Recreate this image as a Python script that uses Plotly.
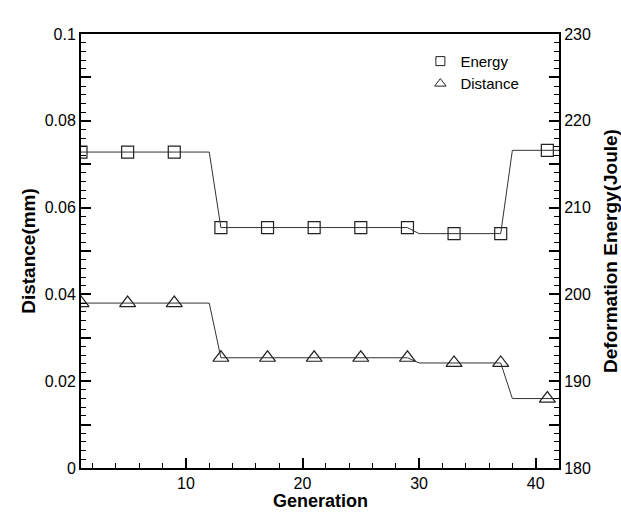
import plotly.graph_objects as go

# ---- data ----
generation = [1, 2, 3, 4, 5, 6, 7, 8, 9, 10, 11, 12, 13, 14, 15, 16, 17, 18, 19, 20, 21,
              22, 23, 24, 25, 26, 27, 28, 29, 30, 31, 32, 33, 34, 35, 36, 37, 38, 39, 40, 41, 42]

energy_joule = [216.4, 216.4, 216.4, 216.4, 216.4, 216.4, 216.4, 216.4, 216.4, 216.4, 216.4, 216.4,
                207.7, 207.7, 207.7, 207.7, 207.7, 207.7, 207.7, 207.7, 207.7, 207.7, 207.7, 207.7,
                207.7, 207.7, 207.7, 207.7, 207.7,
                207.0, 207.0, 207.0, 207.0, 207.0, 207.0, 207.0, 207.0,
                216.6, 216.6, 216.6, 216.6, 216.6]

distance_mm = [0.0380, 0.0380, 0.0380, 0.0380, 0.0380, 0.0380, 0.0380, 0.0380, 0.0380, 0.0380, 0.0380, 0.0380,
               0.0254, 0.0254, 0.0254, 0.0254, 0.0254, 0.0254, 0.0254, 0.0254, 0.0254, 0.0254, 0.0254, 0.0254,
               0.0254, 0.0254, 0.0254, 0.0254, 0.0254,
               0.0242, 0.0242, 0.0242, 0.0242, 0.0242, 0.0242, 0.0242, 0.0242,
               0.0160, 0.0160, 0.0160, 0.0160, 0.0160]

marker_generations = [1, 5, 9, 13, 17, 21, 25, 29, 33, 37, 41]

x_tickvals = [10, 20, 30, 40]
y_tickvals = [0, 0.01, 0.02, 0.03, 0.04, 0.05, 0.06, 0.07, 0.08, 0.09, 0.1]
y_ticktext = ["0", "", "0.02", "", "0.04", "", "0.06", "", "0.08", "", "0.1"]
y2_tickvals = [180, 185, 190, 195, 200, 205, 210, 215, 220, 225, 230]
y2_ticktext = ["180", "", "190", "", "200", "", "210", "", "220", "", "230"]

# ---- derived marker subsets ----
idx = [generation.index(g) for g in marker_generations]
energy_marks = [energy_joule[i] for i in idx]
distance_marks = [distance_mm[i] for i in idx]

FONT = "Liberation Sans, Arial, sans-serif"
LINE_COLOR = "#333333"

fig = go.Figure()

# lines
fig.add_trace(go.Scatter(x=generation, y=energy_joule, yaxis="y2", mode="lines",
                         line=dict(color=LINE_COLOR, width=1), showlegend=False, hoverinfo="skip"))
fig.add_trace(go.Scatter(x=generation, y=distance_mm, yaxis="y", mode="lines",
                         line=dict(color=LINE_COLOR, width=1), showlegend=False, hoverinfo="skip"))

# markers
fig.add_trace(go.Scatter(x=marker_generations, y=energy_marks, yaxis="y2", mode="markers",
                         marker=dict(symbol="square-open", size=12, color="#222222",
                                     line=dict(width=1.2, color="#222222")),
                         showlegend=False, name="Energy"))
fig.add_trace(go.Scatter(x=marker_generations, y=distance_marks, yaxis="y", mode="markers",
                         marker=dict(symbol="triangle-up-open", size=14, color="#222222",
                                     line=dict(width=1.2, color="#222222")),
                         showlegend=False, name="Distance"))

# legend entries
fig.add_trace(go.Scatter(x=[None], y=[None], mode="markers", name="Energy",
                         marker=dict(symbol="square-open", size=9, color="#222222",
                                     line=dict(width=1, color="#222222"))))
fig.add_trace(go.Scatter(x=[None], y=[None], mode="markers", name="Distance",
                         marker=dict(symbol="triangle-up-open", size=10, color="#222222",
                                     line=dict(width=1, color="#222222"))))

tickfont = dict(family=FONT, size=16, color="black")
titlefont = dict(family=FONT, size=19, color="black", weight="bold")
xtitlefont = dict(family=FONT, size=18, color="black", weight="bold")

fig.update_layout(
    width=621, height=512,
    margin=dict(l=81, r=62, t=34, b=44),
    paper_bgcolor="white", plot_bgcolor="white",
    font=dict(family=FONT, color="black"),
    showlegend=True,
    legend=dict(x=0.71, y=0.975, xanchor="left", yanchor="top",
                bgcolor="rgba(0,0,0,0)", borderwidth=0,
                font=dict(family=FONT, size=15, color="black"),
                tracegroupgap=0, itemwidth=30),
    xaxis=dict(
        range=[1, 42], tickmode="array", tickvals=x_tickvals,
        ticks="inside", ticklen=10, tickwidth=2, tickcolor="black",
        showline=True, linewidth=2, linecolor="black", mirror=True,
        showgrid=False, zeroline=False, tickfont=tickfont,
        minor=dict(tickmode="linear", tick0=0, dtick=2, ticks="inside", ticklen=5,
                   tickwidth=1, tickcolor="black", showgrid=False),
        automargin=False,
    ),
    yaxis=dict(
        range=[0, 0.1], tickmode="array", tickvals=y_tickvals, ticktext=y_ticktext,
        ticks="inside", ticklen=10, tickwidth=2, tickcolor="black",
        showline=True, linewidth=2, linecolor="black", mirror=True,
        showgrid=False, zeroline=False, tickfont=tickfont,
        minor=dict(tickmode="linear", tick0=0, dtick=0.002, ticks="inside", ticklen=5,
                   tickwidth=1, tickcolor="black", showgrid=False),
        title=dict(text="Distance(mm)", font=titlefont, standoff=4),
        automargin=False,
    ),
    yaxis2=dict(
        overlaying="y", side="right",
        range=[180, 230], tickmode="array", tickvals=y2_tickvals, ticktext=y2_ticktext,
        ticks="inside", ticklen=10, tickwidth=2, tickcolor="black",
        showline=True, linewidth=2, linecolor="black",
        showgrid=False, zeroline=False, tickfont=tickfont,
        minor=dict(tickmode="linear", tick0=180, dtick=1, ticks="inside", ticklen=5,
                   tickwidth=1, tickcolor="black", showgrid=False),
        title=dict(text="Deformation Energy(Joule)", font=titlefont, standoff=16),
        automargin=False,
    ),
    annotations=[dict(text="Generation", xref="paper", yref="paper", x=0.5, y=0,
                      xanchor="center", yanchor="middle", yshift=-33,
                      showarrow=False, font=xtitlefont)],
)

fig.write_html("out.html", config={"displayModeBar": False},
               post_script="document.body.style.margin='0';document.body.style.overflow='hidden';")
